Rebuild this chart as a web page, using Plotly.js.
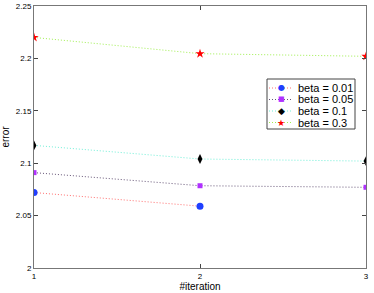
<!DOCTYPE html>
<html><head><meta charset="utf-8">
<script src="https://cdn.plot.ly/plotly-3.0.1.min.js"></script>
<style>html,body{margin:0;padding:0;background:#fff}#chart{width:374px;height:293px}</style>
</head><body><div id="chart"></div>
<script>
const iterations = [1, 2, 3];
const beta001 = [2.072, 2.059];
const beta005 = [2.091, 2.0785, 2.077];
const beta01 = [2.117, 2.104, 2.102];
const beta03 = [2.220, 2.2045, 2.202];
const names = ['beta = 0.01', 'beta = 0.05', 'beta = 0.1', 'beta = 0.3'];

const lineColors = ['#ff7070', '#665577', '#70f0d8', '#a0f050'];
const markerColors = ['#1f3fff', '#b030ff', '#000000', '#ff0000'];
const markerSymbols = ['circle', 'square', 'diamond-tall', 'star'];
const markerSizes = [7, 5, 7, 7];
const legendGlyphs = ['\u25CF', '\u25A0', '\u25C6', '\u2605'];
const legendGlyphSizes = [8, 7, 9, 9];

const series = [beta001, beta005, beta01, beta03];
const traces = series.map((ys, i) => ({
  x: iterations.slice(0, ys.length), y: ys, name: names[i], mode: 'lines+markers',
  showlegend: false,
  line: {color: lineColors[i], dash: '1px,2px', width: 1},
  marker: {symbol: markerSymbols[i], size: markerSizes[i], color: markerColors[i]}
}));

// manual legend (compact, like the reference)
const W = 374, H = 293, mL = 34, mR = 8, mT = 6, mB = 25;
const pw = W - mL - mR, ph = H - mT - mB;
const px = v => (v - mL) / pw;
const py = v => (H - mB - v) / ph;
const shapes = [{type: 'rect', xref: 'paper', yref: 'paper', x0: px(267), x1: px(355), y0: py(129), y1: py(79),
  line: {color: '#444', width: 1}, fillcolor: '#fff', layer: 'above'}];
const annotations = [];
names.forEach((n, i) => {
  const yc = 88 + i * 11.5;
  shapes.push({type: 'line', xref: 'paper', yref: 'paper', x0: px(269), x1: px(292), y0: py(yc), y1: py(yc),
    line: {color: lineColors[i], dash: '1px,2px', width: 1}, layer: 'above'});
  annotations.push({xref: 'paper', yref: 'paper', x: px(281), y: py(yc), text: legendGlyphs[i], showarrow: false,
    xanchor: 'center', yanchor: 'middle', font: {family: 'DejaVu Sans', size: legendGlyphSizes[i], color: markerColors[i]}});
  annotations.push({xref: 'paper', yref: 'paper', x: px(296), y: py(yc), text: n, showarrow: false,
    xanchor: 'left', yanchor: 'middle', font: {family: 'Liberation Sans, Arial, sans-serif', size: 11, color: '#000'}});
});

const axisCommon = {showgrid: false, zeroline: false, showline: true, linecolor: '#777', linewidth: 1,
  mirror: 'ticks', ticks: 'inside', ticklen: 4, tickcolor: '#444',
  tickfont: {family: 'Liberation Sans, Arial, sans-serif', size: 8, color: '#000'}};

const layout = {
  width: W, height: H,
  margin: {l: mL, r: mR, t: mT, b: mB},
  paper_bgcolor: '#fff', plot_bgcolor: '#fff',
  font: {family: 'Liberation Sans, Arial, sans-serif', color: '#000'},
  xaxis: Object.assign({}, axisCommon, {range: [1, 3], tickvals: iterations, ticktext: ['1', '2', '3'],
    title: {text: '#iteration', font: {size: 10}, standoff: 2}}),
  yaxis: Object.assign({}, axisCommon, {range: [2, 2.25], dtick: 0.05,
    title: {text: 'error', font: {size: 10}, standoff: 4}}),
  showlegend: false,
  shapes: shapes,
  annotations: annotations
};
Plotly.newPlot('chart', traces, layout, {displayModeBar: false, staticPlot: true});
</script></body></html>
